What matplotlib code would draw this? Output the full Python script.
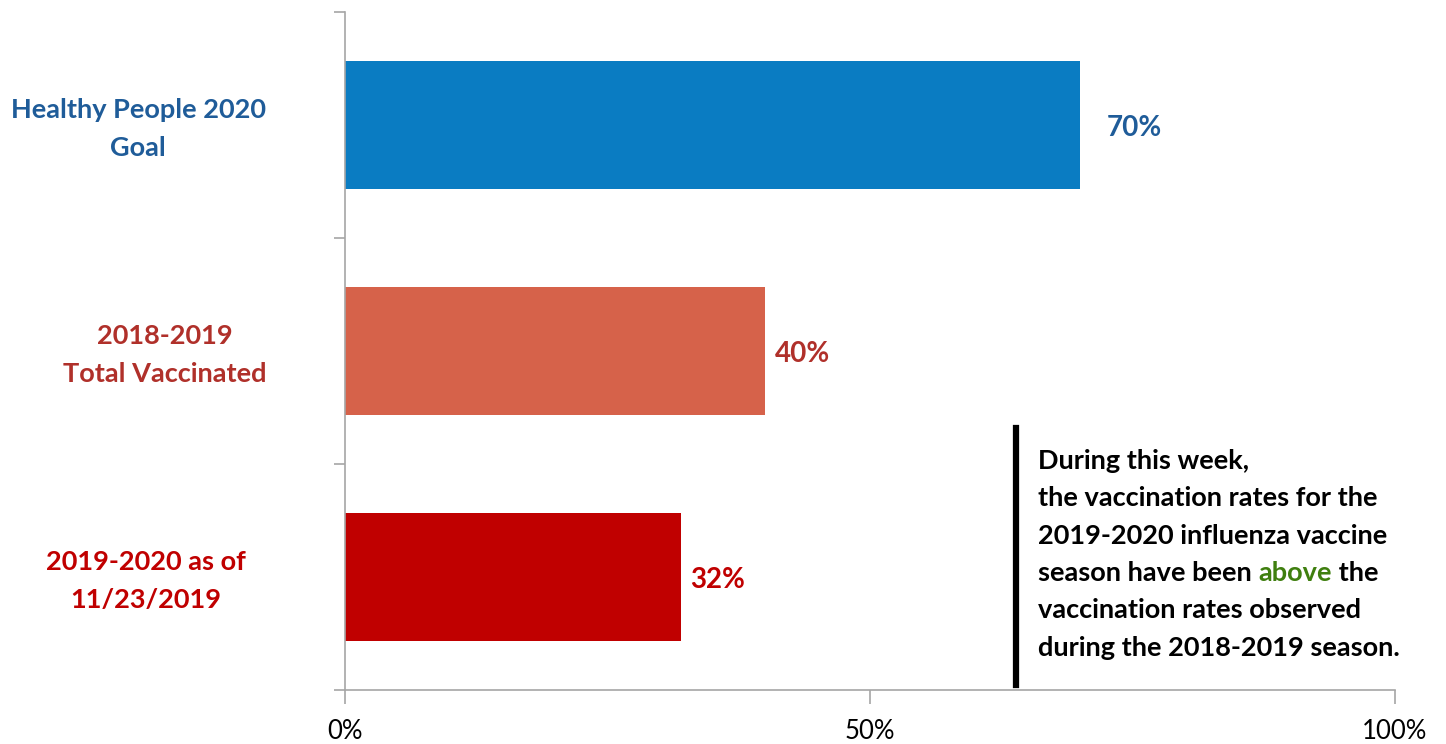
import matplotlib
matplotlib.use("Agg")
import matplotlib.pyplot as plt
from matplotlib.lines import Line2D
from matplotlib.transforms import blended_transform_factory, offset_copy

categories = ["Healthy People 2020\nGoal", "2018-2019\nTotal Vaccinated", "2019-2020 as of\n11/23/2019"]
values = [70, 40, 32]
value_labels = ["70%", "40%", "32%"]
xticks = [0, 50, 100]
xtick_labels = ["0%", "50%", "100%"]

bar_colors = ["#0A7CC2", "#D6624A", "#C00000"]
text_colors = ["#1F5C99", "#B0302A", "#C00000"]
label_x = [-0.197, -0.172, -0.190]
value_offsets = [27, 10, 9]

FONT = "Lato"
plt.rcParams["font.family"] = FONT

fig = plt.figure(figsize=(14.46, 7.44), dpi=100)
ax = fig.add_axes([345/1446, 1-690/744, 1050/1446, 678/744])

ypos = list(range(len(categories)))
ax.barh(ypos, values, height=0.57, color=bar_colors, zorder=2)
ax.set_ylim(len(categories)-0.5, -0.5)
ax.set_xlim(0, 100)

ax.set_xticks(xticks)
ax.set_xticklabels(xtick_labels, fontsize=18.5)
ax.set_yticks([-0.5, 0.5, 1.5, 2.5])
ax.set_yticklabels([])
for s in ["top", "right"]:
    ax.spines[s].set_visible(False)
for s in ["left", "bottom"]:
    ax.spines[s].set_color("#A6A6A6")
    ax.spines[s].set_linewidth(1.2)
ax.tick_params(axis="x", length=10, width=1.2, color="#A6A6A6", pad=11)
ax.tick_params(axis="y", length=8, width=1.2, color="#A6A6A6")

tr = blended_transform_factory(ax.transAxes, ax.transData)
tr_down = offset_copy(tr, fig=fig, x=0, y=-3, units="points")
for i, (cat, c, lx) in enumerate(zip(categories, text_colors, label_x)):
    ax.text(lx, i, cat, transform=tr_down, ha="center", va="center", color=c,
            fontsize=19.5, fontweight="bold", linespacing=1.72)

for i, (v, lab, c, off) in enumerate(zip(values, value_labels, text_colors, value_offsets)):
    ax.annotate(lab, (v, i), xytext=(off*0.72, -2.5), textcoords="offset points",
                ha="left", va="center", color=c, fontsize=20, fontweight="bold")

# annotation box
fig.add_artist(Line2D([1016/1446, 1016/1446], [1-428/744, 1-685/744],
                      transform=fig.transFigure, color="black", linewidth=4.5))
lines = ["During this week,",
         "the vaccination rates for the",
         "2019-2020 influenza vaccine",
         None,
         "vaccination rates observed",
         "during the 2018-2019 season."]
x0 = 1038/1446
y_first = 461
step = 37.3
fig.canvas.draw()
renderer = fig.canvas.get_renderer()
for k, ln in enumerate(lines):
    yf = 1 - (y_first + k*step)/744
    if ln is not None:
        fig.text(x0, yf, ln, ha="left", va="center", fontsize=19.5, fontweight="bold", color="black")
    else:
        parts = [("season have been ", "black"), ("above", "#3F7F0F"), (" the", "black")]
        xx = x0
        for txt, col in parts:
            t = fig.text(xx, yf, txt, ha="left", va="center", fontsize=19.5, fontweight="bold", color=col)
            bb = t.get_window_extent(renderer=renderer)
            xx += bb.width / fig.bbox.width

fig.savefig("out.png", dpi=100)
